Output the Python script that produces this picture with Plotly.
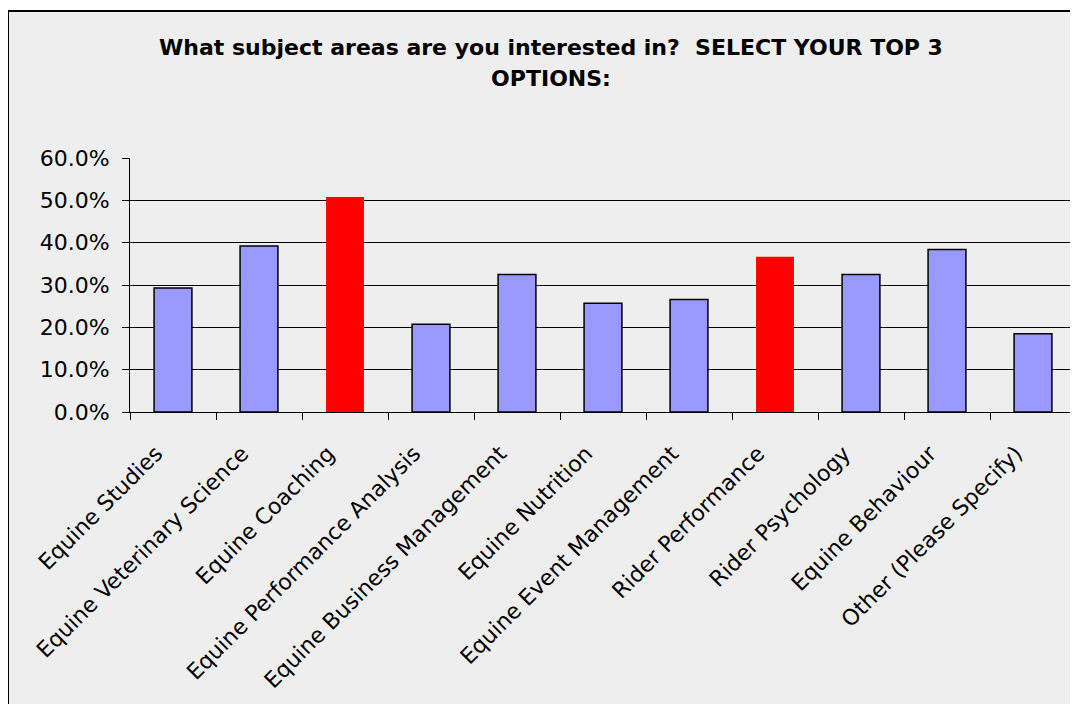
import plotly.graph_objects as go

# ---- data ----
categories = [
    "Equine Studies",
    "Equine Veterinary Science",
    "Equine Coaching",
    "Equine Performance Analysis",
    "Equine Business Management",
    "Equine Nutrition",
    "Equine Event Management",
    "Rider Performance",
    "Rider Psychology",
    "Equine Behaviour",
    "Other (Please Specify)",
]
values = [0.293, 0.392, 0.508, 0.207, 0.325, 0.257, 0.266, 0.367, 0.325, 0.384, 0.185]
highlighted = [False, False, True, False, False, False, False, True, False, False, False]
y_ticks = [0.0, 0.1, 0.2, 0.3, 0.4, 0.5, 0.6]

# ---- styles ----
W, H = 1078, 704
L, R, T, B = 122, 10, 150, 300
plot_w = W - L - R
plot_h = H - T - B

blue = "#9999FF"
red = "#FF0000"
colors = [red if h else blue for h in highlighted]
line_widths = [0 if h else 1.5 for h in highlighted]

fig = go.Figure(
    go.Bar(
        x=categories,
        y=values,
        width=0.44,
        marker=dict(color=colors, line=dict(color="black", width=line_widths)),
        hovertemplate="%{x}: %{y:.1%}<extra></extra>",
    )
)

# outer chart border (gray chart area with black frame)
fig.add_shape(
    type="rect",
    xref="paper", yref="paper",
    x0=(0 - L) / plot_w, x1=1.2,
    y0=-2.0, y1=(H - B - 3) / plot_h,
    fillcolor="#EEEEEE",
    line=dict(color="black", width=2),
    layer="below",
)

fig.update_layout(
    width=W, height=H,
    margin=dict(l=L, r=R, t=T, b=B, pad=0),
    paper_bgcolor="white",
    plot_bgcolor="rgba(0,0,0,0)",
    showlegend=False,
    font=dict(family="DejaVu Sans", color="black"),
    title=dict(
        text="<b><span style='font-size:22px'>What subject areas are you interested in?&nbsp; SELECT YOUR TOP 3</span></b>"
             "<br><b><span style='font-size:22px'>OPTIONS:</span></b>",
        font=dict(family="DejaVu Sans", size=24, color="black"),
        x=543 / W, xref="container", xanchor="center",
        y=1 - 47 / H, yref="container", yanchor="top",
    ),
    xaxis=dict(
        type="category",
        tickangle=-45,
        tickson="boundaries",
        ticks="outside",
        ticklen=7,
        tickcolor="black",
        showline=True,
        linecolor="black",
        linewidth=1,
        showgrid=False,
        ticklabelstandoff=19,
        ticklabelshift=-17,
        tickfont=dict(family="DejaVu Sans", size=22, color="black"),
        fixedrange=True,
    ),
    yaxis=dict(
        range=[0, 0.6],
        tickvals=y_ticks,
        tickformat=".1%",
        ticks="outside",
        ticklen=7,
        tickcolor="black",
        showline=True,
        linecolor="black",
        linewidth=1,
        showgrid=True,
        gridcolor="black",
        gridwidth=1,
        zeroline=False,
        ticklabelstandoff=8,
        tickfont=dict(family="DejaVu Sans", size=22, color="black"),
        fixedrange=True,
    ),
)

fig.write_html("out.html")
